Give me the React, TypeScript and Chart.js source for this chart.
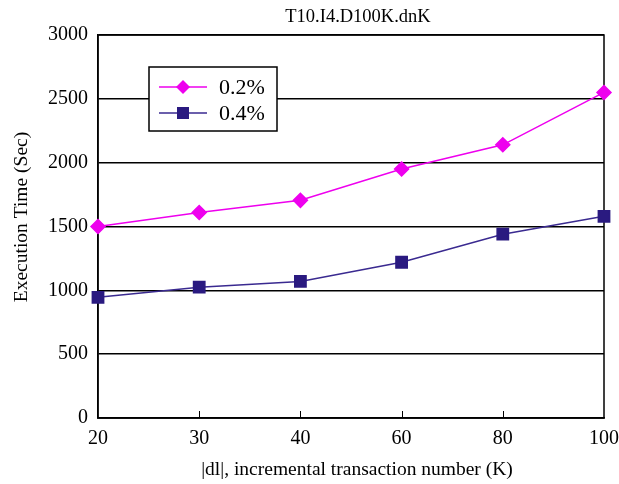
import React, { useEffect, useRef } from "react";
import { Chart, registerables } from "chart.js";

Chart.register(...registerables);

const categories = ["20", "30", "40", "60", "80", "100"];
const series02 = [1500, 1610, 1705, 1950, 2140, 2550];
const series04 = [945, 1025, 1070, 1220, 1440, 1580];
const seriesLabels = ["0.2%", "0.4%"];
const yTicks = [0, 500, 1000, 1500, 2000, 2500, 3000];
const chartTitle = "T10.I4.D100K.dnK";
const xTitle = "|dl|, incremental transaction number (K)";
const yTitle = "Execution Time (Sec)";

const SERIF = "'Liberation Serif', 'DejaVu Serif', serif";

const decorPlugin = {
  id: "decor",
  beforeDraw(chart: any) {
    const { ctx, width, height } = chart;
    ctx.save();
    ctx.fillStyle = "#fff";
    ctx.fillRect(0, 0, width, height);
    ctx.restore();
  },
  beforeDatasetsDraw(chart: any) {
    const { ctx, chartArea } = chart;
    const x = chart.scales.x;
    ctx.save();
    ctx.strokeStyle = "#000";
    ctx.lineWidth = 1.5;
    ctx.strokeRect(chartArea.left, chartArea.top, chartArea.right - chartArea.left, chartArea.bottom - chartArea.top);
    ctx.lineWidth = 1;
    for (let i = 1; i < categories.length - 1; i++) {
      const px = Math.round(x.getPixelForTick(i)) + 0.5;
      ctx.beginPath();
      ctx.moveTo(px, chartArea.bottom);
      ctx.lineTo(px, chartArea.bottom - 7);
      ctx.stroke();
    }
    ctx.restore();
  },
  afterDatasetsDraw(chart: any) {
    const { ctx } = chart;
    ctx.save();
    const bx = 149, by = 67, bw = 128, bh = 64;
    ctx.fillStyle = "#fff";
    ctx.fillRect(bx, by, bw, bh);
    ctx.strokeStyle = "#000";
    ctx.lineWidth = 1.5;
    ctx.strokeRect(bx, by, bw, bh);
    const rows = [87, 113];
    chart.data.datasets.forEach((ds: any, i: number) => {
      const y = rows[i];
      ctx.strokeStyle = ds.borderColor;
      ctx.lineWidth = 1.5;
      ctx.beginPath();
      ctx.moveTo(159, y);
      ctx.lineTo(207, y);
      ctx.stroke();
      ctx.fillStyle = ds.pointBackgroundColor;
      if (ds.pointStyle === "rectRot") {
        ctx.beginPath();
        ctx.moveTo(183, y - 7);
        ctx.lineTo(190, y);
        ctx.lineTo(183, y + 7);
        ctx.lineTo(176, y);
        ctx.closePath();
        ctx.fill();
      } else {
        ctx.fillRect(177, y - 6, 12, 12);
      }
      ctx.fillStyle = "#000";
      ctx.font = `22px ${SERIF}`;
      ctx.textAlign = "left";
      ctx.textBaseline = "middle";
      ctx.fillText(ds.label, 219, y + 1);
    });
    ctx.restore();
  },
  afterDraw(chart: any) {
    const { ctx } = chart;
    ctx.save();
    ctx.fillStyle = "#000";
    ctx.textAlign = "center";
    ctx.textBaseline = "middle";
    ctx.font = `18.5px ${SERIF}`;
    ctx.fillText(chartTitle, 358, 17);
    ctx.font = `19.5px ${SERIF}`;
    ctx.fillText(xTitle, 357, 470);
    ctx.translate(22, 217);
    ctx.rotate(-Math.PI / 2);
    ctx.fillText(yTitle, 0, 0);
    ctx.restore();
  },
};

export default function App() {
  const ref = useRef<HTMLCanvasElement | null>(null);
  useEffect(() => {
    if (!ref.current) return;
    const chart = new Chart(ref.current, {
      type: "line",
      data: {
        labels: categories,
        datasets: [
          {
            label: seriesLabels[0],
            data: series02,
            borderColor: "#EE00EE",
            backgroundColor: "#EE00EE",
            pointBackgroundColor: "#EE00EE",
            pointBorderColor: "#EE00EE",
            pointStyle: "rectRot",
            pointRadius: 7,
            borderWidth: 1.5,
            tension: 0,
          },
          {
            label: seriesLabels[1],
            data: series04,
            borderColor: "#3A2A90",
            backgroundColor: "#2A1A80",
            pointBackgroundColor: "#2A1A80",
            pointBorderColor: "#2A1A80",
            pointStyle: "rect",
            pointRadius: 8,
            borderWidth: 1.5,
            tension: 0,
          },
        ],
      },
      options: {
        responsive: false,
        animation: false,
        layout: { padding: { top: 35, right: 15, left: 0, bottom: 0 } },
        plugins: {
          legend: { display: false },
          title: { display: false },
          tooltip: { enabled: false },
        },
        scales: {
          x: {
            type: "category",
            offset: false,
            grid: { display: false, drawTicks: false },
            border: { display: true, color: "#000", width: 1.5 },
            ticks: {
              color: "#000",
              font: { family: SERIF, size: 20 },
              padding: 9,
              maxRotation: 0,
              autoSkip: false,
            },
            afterFit: (s: any) => {
              s.height = 66;
              s.paddingLeft = 0;
              s.paddingRight = 0;
            },
          },
          y: {
            min: 0,
            max: 3000,
            afterBuildTicks: (s: any) => {
              s.ticks = yTicks.map((v) => ({ value: v }));
            },
            grid: { color: "#000", lineWidth: 1.5, drawTicks: false },
            border: { display: true, color: "#000", width: 1.5 },
            ticks: {
              color: "#000",
              font: { family: SERIF, size: 20 },
              padding: 10,
              callback: (v: any) => String(v),
            },
            afterFit: (s: any) => {
              s.width = 98;
              s.paddingTop = 0;
              s.paddingBottom = 0;
            },
          },
        },
      },
      plugins: [decorPlugin],
    });
    return () => chart.destroy();
  }, []);
  return (
    <div style={{ position: "fixed", left: 0, top: 0, width: 619, height: 484 }}>
      <canvas ref={ref} width={619} height={484} />
    </div>
  );
}
